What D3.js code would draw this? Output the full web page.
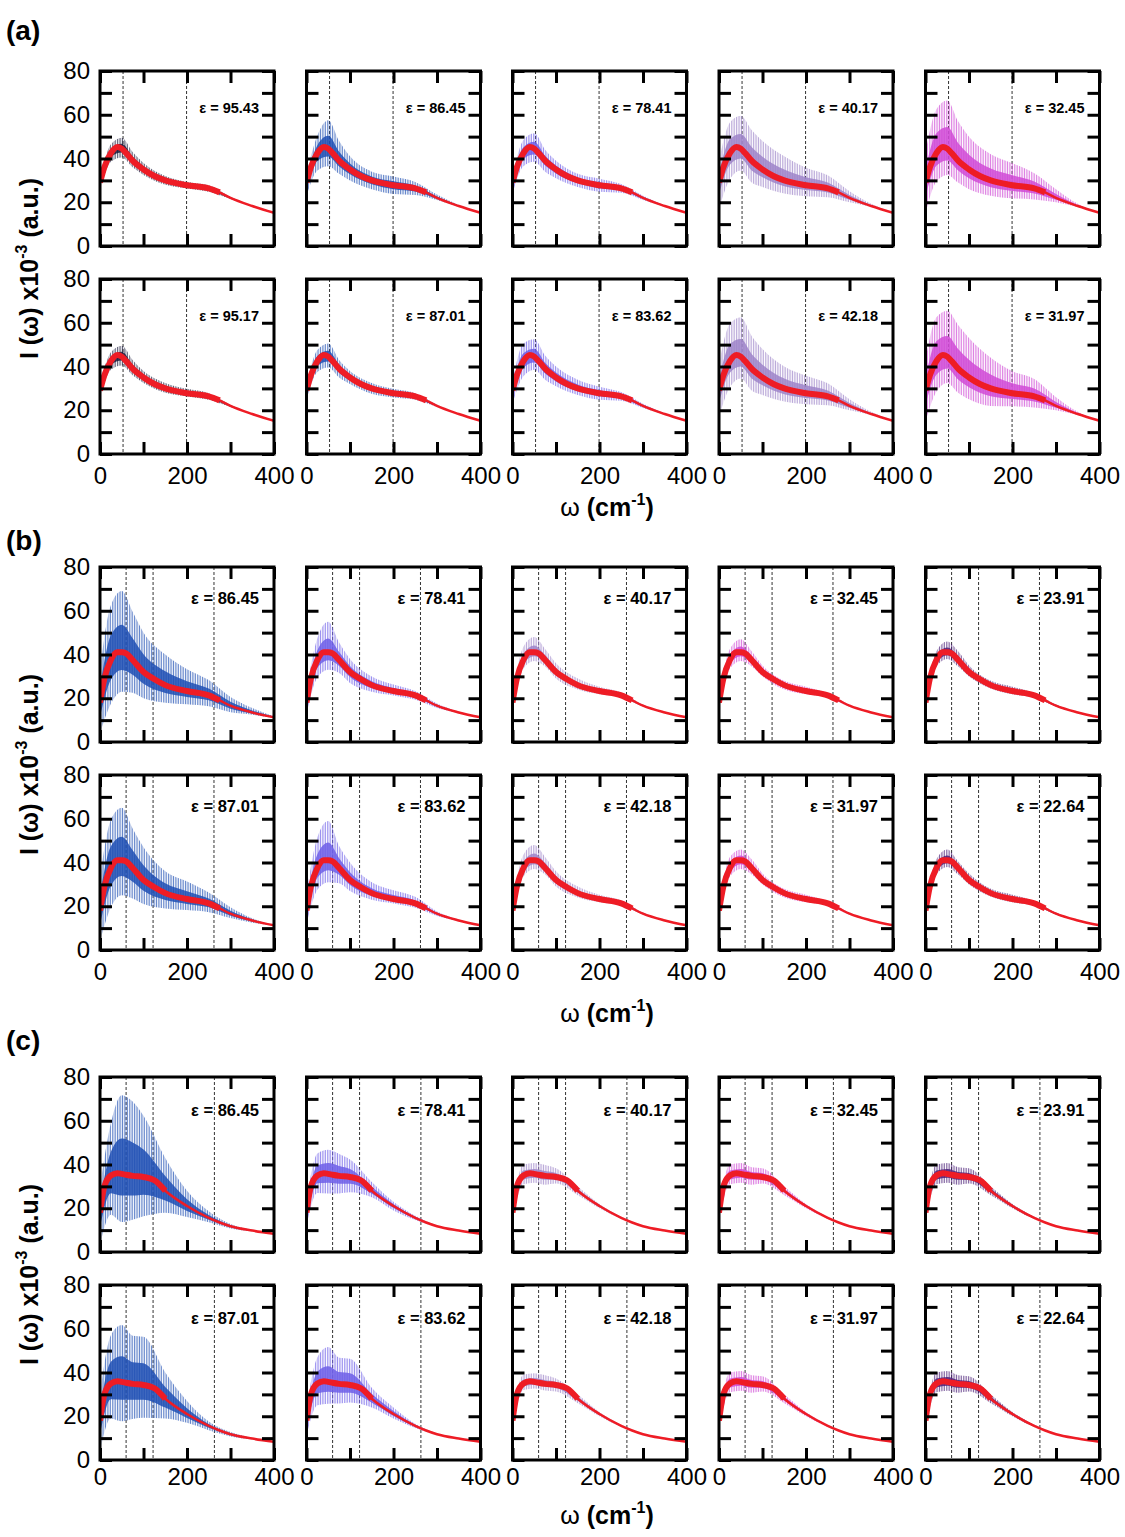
<!DOCTYPE html>
<html>
<head>
<meta charset="utf-8">
<script src="https://cdn.jsdelivr.net/npm/d3@7"></script>
<style>
  body { margin: 0; background: #fff; }
  svg { display: block; font-family: "Liberation Sans", Arial, sans-serif; }
</style>
</head>
<body>
<svg id="chart" width="1125" height="1537"></svg>
<script>
// ---- data ----
const omegaFit = [0, 10, 25, 40, 50, 60, 75, 100, 125, 150, 200, 250, 275, 300, 350, 400];
const fitA = [29, 36, 42.5, 45.3, 44.5, 42.5, 39, 35, 32, 30, 27.8, 26.3, 24.5, 22, 18.3, 15.2];
const fitB = [18, 29, 37.5, 41, 41, 40.5, 37.5, 32, 28.7, 26, 23.3, 21.3, 19, 16.6, 13.5, 11.3];
const fitC = [18, 30, 35, 36, 35.7, 35.3, 34.8, 34.3, 32.8, 28, 21, 15.6, 13.5, 11.8, 9.8, 8.3];

// noise envelope (excursion above / below the fit) at these omegas
const omegaNoise = [0, 25, 50, 75, 100, 150, 200, 250, 300, 350, 400];
const noiseUpA = [
  [2, 4, 5, 4, 3, 2, 1.5, 1.5, 0.5, 0, 0],
  [4, 8, 13, 9, 6, 4, 4, 3, 1.5, 0.5, 0],
  [3, 6, 7, 5, 4, 3, 3, 2, 1, 0.3, 0],
  [10, 14, 15, 14, 13, 11, 8, 6, 3, 1, 0],
  [14, 20, 22, 18, 15, 12, 10, 7, 4, 1, 0],
  [3, 4, 5, 4, 3, 2.5, 2, 1.5, 0.5, 0, 0],
  [3, 5, 6, 4, 3, 2.5, 2, 1.5, 0.5, 0, 0],
  [4, 8, 8, 6, 5, 4, 3, 2, 1, 0.3, 0],
  [12, 17, 18, 15, 13, 10, 8, 6, 3, 1, 0],
  [14, 20, 21, 20, 18, 14, 10, 8, 4, 1, 0]
];
const noiseDownA = [
  [3, 4, 4, 3, 2.5, 2, 1.5, 1.5, 0.5, 0, 0],
  [6, 8, 8, 6, 5, 4, 4, 3, 1, 0.3, 0],
  [5, 6, 6, 5, 4, 3, 3, 2, 1, 0.3, 0],
  [12, 12, 10, 10, 8, 6, 5, 4, 2, 0.5, 0],
  [14, 13, 12, 10, 9, 7, 6, 5, 2, 0.5, 0],
  [3, 4, 4, 3, 2.5, 2, 1.5, 1.5, 0.5, 0, 0],
  [4, 5, 5, 4, 3, 2.5, 2, 1.5, 0.5, 0, 0],
  [6, 7, 6, 5, 4, 3, 3, 2, 1, 0.3, 0],
  [12, 12, 10, 10, 8, 6, 5, 4, 2, 0.5, 0],
  [14, 14, 12, 11, 10, 8, 6, 5, 2, 0.5, 0]
];
const noiseUpB = [
  [15, 25, 28, 22, 18, 14, 10, 7, 4, 2, 0.5],
  [6, 10, 14, 8, 6, 4, 3, 2, 1, 0.3, 0],
  [3, 6, 7, 5, 4, 3, 2, 1.5, 0.5, 0, 0],
  [3, 5, 6, 4, 3, 2, 2, 1, 0.5, 0, 0],
  [2, 4, 5, 4, 3, 2, 2, 1, 0.5, 0, 0],
  [15, 22, 24, 18, 15, 10, 8, 5, 3, 1, 0],
  [8, 14, 18, 10, 8, 5, 4, 3, 1, 0.3, 0],
  [3, 6, 7, 5, 4, 3, 2, 1.5, 0.5, 0, 0],
  [3, 5, 5, 4, 3, 2, 2, 1, 0.5, 0, 0],
  [2, 4, 5, 3, 3, 2, 2, 1, 0.5, 0, 0]
];
const noiseDownB = [
  [14, 20, 18, 15, 12, 8, 6, 5, 3, 1, 0.3],
  [5, 8, 8, 6, 5, 3, 2, 2, 1, 0.3, 0],
  [3, 4, 4, 3, 3, 2, 1.5, 1, 0.5, 0, 0],
  [3, 4, 4, 3, 2, 2, 1.5, 1, 0.5, 0, 0],
  [2, 3, 3, 3, 2, 1.5, 1.5, 1, 0.5, 0, 0],
  [14, 18, 16, 14, 11, 7, 5, 4, 2, 1, 0],
  [6, 10, 10, 7, 5, 3, 2, 2, 1, 0.3, 0],
  [3, 4, 4, 3, 3, 2, 1.5, 1, 0.5, 0, 0],
  [3, 4, 4, 3, 2, 2, 1.5, 1, 0.5, 0, 0],
  [2, 3, 3, 3, 2, 1.5, 1.5, 1, 0.5, 0, 0]
];
const noiseUpC = [
  [12, 24, 36, 34, 28, 15, 7, 3, 1, 0.3, 0],
  [5, 10, 11, 10, 8, 4, 2, 1, 0.3, 0, 0],
  [3, 5, 5, 5, 4, 2, 1, 0.5, 0, 0, 0],
  [3, 5, 5, 4, 4, 2, 1, 0.5, 0, 0, 0],
  [3, 5, 5, 4, 4, 2, 1, 0.5, 0, 0, 0],
  [12, 22, 26, 22, 22, 12, 6, 2, 1, 0.3, 0],
  [6, 12, 16, 12, 12, 5, 3, 1, 0.3, 0, 0],
  [3, 4, 4, 4, 3, 2, 1, 0.5, 0, 0, 0],
  [3, 5, 5, 4, 4, 2, 1, 0.5, 0, 0, 0],
  [3, 5, 5, 4, 4, 2, 1, 0.5, 0, 0, 0]
];
const noiseDownC = [
  [15, 18, 22, 20, 18, 10, 5, 2, 1, 0.3, 0],
  [6, 8, 9, 8, 7, 3, 2, 1, 0.3, 0, 0],
  [3, 4, 4, 4, 3, 2, 1, 0.5, 0, 0, 0],
  [3, 4, 4, 4, 3, 2, 1, 0.5, 0, 0, 0],
  [3, 4, 4, 4, 3, 2, 1, 0.5, 0, 0, 0],
  [14, 16, 18, 16, 15, 9, 4, 2, 1, 0.3, 0],
  [7, 10, 10, 9, 8, 4, 2, 1, 0.3, 0, 0],
  [3, 3, 3, 3, 3, 2, 1, 0.5, 0, 0, 0],
  [3, 4, 4, 4, 3, 2, 1, 0.5, 0, 0, 0],
  [3, 4, 4, 4, 3, 2, 1, 0.5, 0, 0, 0]
];

const epsA = ['95.43', '86.45', '78.41', '40.17', '32.45', '95.17', '87.01', '83.62', '42.18', '31.97'];
const epsB = ['86.45', '78.41', '40.17', '32.45', '23.91', '87.01', '83.62', '42.18', '31.97', '22.64'];
const epsC = ['86.45', '78.41', '40.17', '32.45', '23.91', '87.01', '83.62', '42.18', '31.97', '22.64'];

const markersA = [53, 199];
const markersB = [60, 122, 262];
const markersC = [60, 122, 263];

const xTicks = [0, 100, 200, 300, 400];
const xTickLabels = [0, 200, 400];
const yTicks = [0, 10, 20, 30, 40, 50, 60, 70, 80];
const yTickLabels = [0, 20, 40, 60, 80];

// ---- layout / style ----
const svg = d3.select('#chart');
const PW = 174;
const PH = 175;
const colLeft = [100, 306.5, 512.5, 719, 925.5];

const black = '#17173a', blue = '#1f4fb4', violet = '#6d5ee8', lavender = '#9d84c9',
  magenta = '#d04ad6', purple = '#4b1f78', red = '#ee1c25';

const sections = [
  { tag: '(a)', tagY: 40, tops: [71, 279], fit: fitA, up: noiseUpA, down: noiseDownA, eps: epsA,
    markers: markersA, colors: [black, blue, violet, lavender, magenta], epsSize: 14.5, epsDy: 42,
    labelGap: 30, titleY: 516, thickEnd: 280 },
  { tag: '(b)', tagY: 550, tops: [567, 775], fit: fitB, up: noiseUpB, down: noiseDownB, eps: epsB,
    markers: markersB, colors: [blue, violet, lavender, magenta, purple], epsSize: 16.5, epsDy: 37,
    labelGap: 30, titleY: 1022, thickEnd: 280 },
  { tag: '(c)', tagY: 1050, tops: [1077, 1285], fit: fitC, up: noiseUpC, down: noiseDownC, eps: epsC,
    markers: markersC, colors: [blue, violet, lavender, magenta, purple], epsSize: 16.5, epsDy: 39,
    labelGap: 25, titleY: 1524, thickEnd: 160 }
];

const x = d3.scaleLinear().domain([0, 400]).range([0, PW]);
const y = d3.scaleLinear().domain([0, 80]).range([PH, 0]);

const band = d3.area()
  .x((d) => x(d.w))
  .y0((d) => y(d.lo))
  .y1((d) => y(d.hi))
  .curve(d3.curveMonotoneX);

const line = d3.line()
  .x((d) => x(d.w))
  .y((d) => y(d.v))
  .curve(d3.curveMonotoneX);

const defs = svg.append('defs');

sections.forEach((sec, si) => {
  svg.append('text')
    .attr('x', 6)
    .attr('y', sec.tagY)
    .attr('font-size', 28)
    .attr('font-weight', 'bold')
    .text(sec.tag);

  const fitPts = omegaFit.map((w, i) => ({ w, v: sec.fit[i] }));
  const fitAt = (w) => sec.fit[omegaFit.indexOf(w)];

  sec.tops.forEach((top, r) => {
    colLeft.forEach((left, c) => {
      const k = r * 5 + c;
      const col = sec.colors[c];
      const g = svg.append('g').attr('transform', `translate(${left},${top})`);

      const clipId = `clip-${si}-${k}`;
      defs.append('clipPath').attr('id', clipId)
        .append('rect').attr('width', PW).attr('height', PH);

      const patId = `hatch-${si}-${k}`;
      defs.append('pattern').attr('id', patId)
        .attr('patternUnits', 'userSpaceOnUse')
        .attr('width', 1.7).attr('height', 6)
        .append('rect').attr('width', 0.8).attr('height', 6).attr('fill', col);

      const plot = g.append('g').attr('clip-path', `url(#${clipId})`);

      // dashed reference lines
      plot.selectAll('.marker')
        .data(sec.markers)
        .enter()
        .append('line')
        .attr('x1', (d) => x(d))
        .attr('x2', (d) => x(d))
        .attr('y1', 0)
        .attr('y2', PH)
        .attr('stroke', '#333')
        .attr('stroke-width', 1)
        .attr('stroke-dasharray', '3,2');

      // noisy spectrum: outer spikes + dense core
      const outer = omegaNoise.map((w, i) => ({
        w, hi: fitAt(w) + sec.up[k][i], lo: fitAt(w) - sec.down[k][i]
      }));
      const core = omegaNoise.map((w, i) => ({
        w, hi: fitAt(w) + sec.up[k][i] * 0.45, lo: fitAt(w) - sec.down[k][i] * 0.45
      }));
      plot.append('path').datum(outer)
        .attr('d', band)
        .attr('fill', `url(#${patId})`)
        .attr('opacity', 0.75);
      plot.append('path').datum(core)
        .attr('d', band)
        .attr('fill', col)
        .attr('opacity', 0.85);

      // fitted curve
      plot.append('path').datum(fitPts)
        .attr('d', line)
        .attr('fill', 'none')
        .attr('stroke', red)
        .attr('stroke-width', 2.5);
      plot.append('path').datum(fitPts.filter((d) => d.w <= sec.thickEnd))
        .attr('d', line)
        .attr('fill', 'none')
        .attr('stroke', red)
        .attr('stroke-width', 6);

      // axes: ticks inward on all four sides
      const bottomRow = r === 1;
      const firstCol = c === 0;

      const xb = g.append('g')
        .attr('transform', `translate(0,${PH})`)
        .call(d3.axisBottom(x).tickValues(xTicks).tickSizeInner(-12).tickSizeOuter(0)
          .tickPadding(sec.labelGap - 17)
          .tickFormat((d) => (bottomRow && xTickLabels.includes(d) ? d : '')));
      g.append('g')
        .call(d3.axisTop(x).tickValues(xTicks).tickSizeInner(-12).tickSizeOuter(0).tickFormat(''));
      const yl = g.append('g')
        .call(d3.axisLeft(y).tickValues(yTicks).tickSizeInner(-12).tickSizeOuter(0)
          .tickPadding(10)
          .tickFormat((d) => (firstCol && yTickLabels.includes(d) ? d : '')));
      g.append('g')
        .attr('transform', `translate(${PW},0)`)
        .call(d3.axisRight(y).tickValues(yTicks).tickSizeInner(-12).tickSizeOuter(0).tickFormat(''));

      g.selectAll('.domain').remove();
      g.selectAll('.tick line').attr('stroke', '#000').attr('stroke-width', 3);
      [xb, yl].forEach((ax) => ax.selectAll('text')
        .attr('font-size', 24)
        .attr('font-family', '"Liberation Sans", Arial, sans-serif')
        .attr('fill', '#000'));

      g.append('rect')
        .attr('width', PW)
        .attr('height', PH)
        .attr('fill', 'none')
        .attr('stroke', '#000')
        .attr('stroke-width', 3);

      g.append('text')
        .attr('x', PW - 15)
        .attr('y', sec.epsDy)
        .attr('text-anchor', 'end')
        .attr('font-size', sec.epsSize)
        .attr('font-weight', 'bold')
        .text(`\u03b5 = ${sec.eps[k]}`);
    });
  });

  // x axis title
  const xt = svg.append('text')
    .attr('x', 607)
    .attr('y', sec.titleY)
    .attr('text-anchor', 'middle')
    .attr('font-size', 25);
  xt.append('tspan').text('\u03c9 ');
  xt.append('tspan').attr('font-weight', 'bold').text('(cm');
  xt.append('tspan').attr('font-weight', 'bold').attr('font-size', 16).attr('dy', -11).text('-1');
  xt.append('tspan').attr('font-weight', 'bold').attr('dy', 11).text(')');

  // y axis title
  const midY = (sec.tops[0] + sec.tops[1] + PH) / 2 + 6;
  const yt = svg.append('text')
    .attr('transform', `translate(38,${midY}) rotate(-90)`)
    .attr('text-anchor', 'middle')
    .attr('font-size', 25)
    .attr('font-weight', 'bold');
  yt.append('tspan').text('I (\u03c9) x10');
  yt.append('tspan').attr('font-size', 16).attr('dy', -11).text('-3');
  yt.append('tspan').attr('dy', 11).text(' (a.u.)');
});
</script>
</body>
</html>
